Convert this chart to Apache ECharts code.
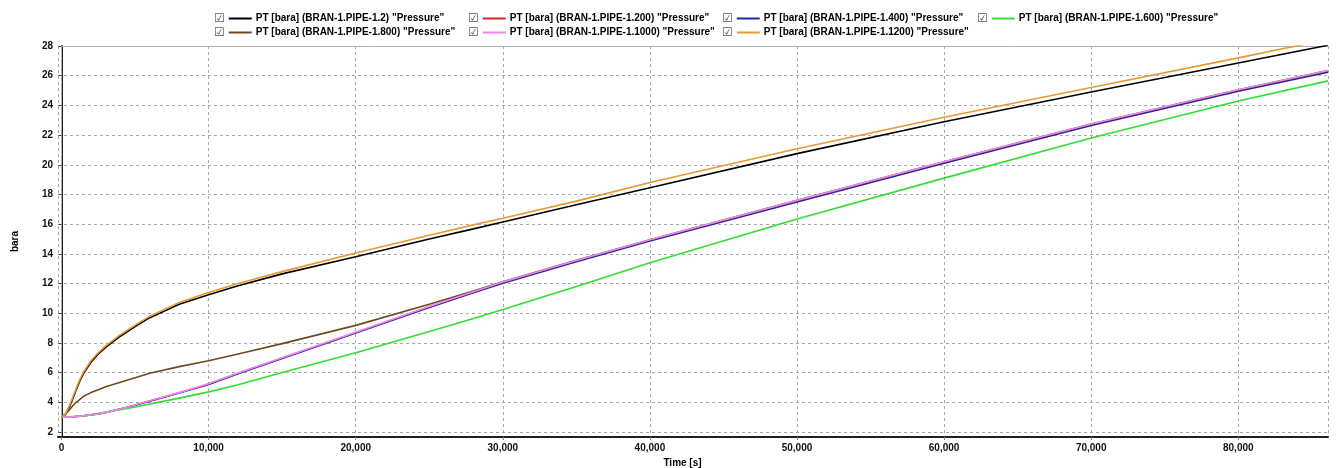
<!DOCTYPE html>
<html><head><meta charset="utf-8">
<script src="https://cdn.jsdelivr.net/npm/echarts@6/dist/echarts.min.js"></script>
<style>html,body{margin:0;padding:0;background:#fff}#c{width:1338px;height:468px}</style>
</head><body><div id="c"></div>
<script>
// ---- data ----
const timeS = [0, 250, 500, 750, 1000, 1250, 1500, 2000, 2500, 3000, 4000, 5000, 6000, 8000, 10000, 12000, 15000, 20000, 25000, 28000, 30000, 35000, 40000, 50000, 60000, 70000, 80000, 86100];
const seriesNames = [
  'PT [bara] (BRAN-1.PIPE-1.2) "Pressure"',
  'PT [bara] (BRAN-1.PIPE-1.200) "Pressure"',
  'PT [bara] (BRAN-1.PIPE-1.400) "Pressure"',
  'PT [bara] (BRAN-1.PIPE-1.600) "Pressure"',
  'PT [bara] (BRAN-1.PIPE-1.800) "Pressure"',
  'PT [bara] (BRAN-1.PIPE-1.1000) "Pressure"',
  'PT [bara] (BRAN-1.PIPE-1.1200) "Pressure"'
];
const pipe1_2    = [3.0, 3.15, 3.6, 4.2, 4.85, 5.45, 5.95, 6.7, 7.25, 7.7, 8.45, 9.1, 9.7, 10.6, 11.25, 11.85, 12.65, 13.8, 15.0, 15.68, 16.15, 17.3, 18.45, 20.75, 22.9, 24.9, 26.85, 28.05];
const pipe1_200  = [3.0, 3.0, 3.0, 3.02, 3.04, 3.06, 3.09, 3.15, 3.23, 3.32, 3.55, 3.81, 4.09, 4.64, 5.23, 5.95, 6.98, 8.7, 10.43, 11.43, 12.08, 13.52, 14.92, 17.57, 20.16, 22.71, 25.01, 26.31];
const pipe1_400  = [3.0, 3.0, 3.0, 3.02, 3.04, 3.06, 3.09, 3.15, 3.22, 3.31, 3.54, 3.8, 4.07, 4.62, 5.2, 5.92, 6.95, 8.66, 10.38, 11.38, 12.02, 13.46, 14.86, 17.5, 20.1, 22.65, 24.95, 26.23];
const pipe1_600  = [3.0, 3.0, 3.0, 3.02, 3.04, 3.06, 3.09, 3.15, 3.23, 3.32, 3.5, 3.68, 3.88, 4.28, 4.7, 5.18, 6.0, 7.34, 8.77, 9.65, 10.25, 11.8, 13.4, 16.35, 19.1, 21.8, 24.3, 25.65];
const pipe1_800  = [3.0, 3.2, 3.45, 3.75, 4.0, 4.2, 4.4, 4.65, 4.85, 5.05, 5.35, 5.65, 5.95, 6.4, 6.8, 7.25, 7.95, 9.18, 10.6, 11.5, 12.12, 13.56, 14.95, 17.6, 20.2, 22.75, 25.05, 26.35];
const pipe1_1000 = [3.0, 3.0, 3.0, 3.02, 3.04, 3.06, 3.09, 3.15, 3.23, 3.32, 3.55, 3.82, 4.1, 4.65, 5.25, 5.97, 7.0, 8.72, 10.45, 11.45, 12.1, 13.55, 14.95, 17.6, 20.2, 22.75, 25.05, 26.35];
const pipe1_1200 = [3.0, 3.2, 3.7, 4.3, 4.95, 5.55, 6.05, 6.8, 7.35, 7.8, 8.55, 9.2, 9.8, 10.72, 11.4, 12.0, 12.8, 14.05, 15.25, 15.95, 16.4, 17.55, 18.8, 21.08, 23.2, 25.2, 27.2, 28.45];
const yTickLabels = ['2','4','6','8','10','12','14','16','18','20','22','24','26','28'];
const xTickLabels = ['0','10,000','20,000','30,000','40,000','50,000','60,000','70,000','80,000'];

// ---- style ----
const seriesValues = [pipe1_2, pipe1_200, pipe1_400, pipe1_600, pipe1_800, pipe1_1000, pipe1_1200];
const lineColors = ['#000000', '#d8232a', '#23239a', '#33dd33', '#6e4a24', '#ee88ee', '#e8992f'];
const FONT = '"Liberation Sans", Arial, sans-serif';
const legendLeft = [208, 462, 716, 971];
const legendTop = [12, 26];

const legends = seriesNames.map((n, i) => ({
  data: [n],
  left: legendLeft[i % 4],
  top: legendTop[Math.floor(i / 4)],
  padding: 0,
  itemWidth: 0,
  itemHeight: 0,
  selectedMode: false,
  formatter: name => '{cb|\u2611}{sp| }{ln| }{sp| }{t|' + name + '}',
  textStyle: {
    fontFamily: FONT, fontWeight: 'bold', fontSize: 10, color: '#000', lineHeight: 13,
    rich: {
      cb: { fontFamily: '"DejaVu Sans"', fontSize: 12, color: '#555', lineHeight: 13 },
      sp: { width: 4 },
      ln: { width: 23, height: 2, lineHeight: 2, backgroundColor: lineColors[i], verticalAlign: 'middle' },
      t: { fontFamily: FONT, fontWeight: 'bold', fontSize: 10, color: '#000', lineHeight: 13 }
    }
  }
}));

const fmtX = v => {
  if (v % 10000 !== 0 || v < 0) return '';
  const k = v / 10000;
  return xTickLabels[k] !== undefined ? xTickLabels[k] : '';
};
const fmtY = v => {
  if (Math.abs(v % 2) > 1e-6) return '';
  const k = Math.round((v - 2) / 2);
  return yTickLabels[k] || '';
};

const chart = echarts.init(document.getElementById('c'), null, { renderer: 'canvas' });
chart.setOption({
  animation: false,
  backgroundColor: '#fff',
  legend: legends,
  grid: { left: 58, right: 10, top: 46, bottom: 31, containLabel: false, outerBoundsMode: 'none' },
  xAxis: [{
    type: 'value', min: -240, max: 86100, splitNumber: 9,
    name: 'Time [s]', nameLocation: 'middle', nameGap: 13,
    nameTextStyle: { fontFamily: FONT, fontWeight: 'bold', fontSize: 10, color: '#000', padding: [0, 21, 0, 0] },
    axisLine: { lineStyle: { color: '#222', width: 2 } },
    axisTick: { show: true, length: 3, lineStyle: { color: '#888' } },
    axisLabel: { margin: 6, fontFamily: FONT, fontWeight: 'bold', fontSize: 10, color: '#111',
      showMinLabel: false, showMaxLabel: false, formatter: fmtX },
    splitLine: { show: true, lineStyle: { color: '#a8a8a8', type: [3, 3], width: 1 } }
  }, {
    type: 'value', position: 'top', min: -240, max: 86100,
    axisLine: { lineStyle: { color: '#b0b0b0', width: 1 } },
    axisTick: { show: false }, axisLabel: { show: false }, splitLine: { show: false }
  }],
  yAxis: [{
    type: 'value', min: 1.66, max: 28, splitNumber: 13,
    name: 'bara', nameLocation: 'middle', nameGap: 38,
    nameTextStyle: { fontFamily: FONT, fontWeight: 'bold', fontSize: 10, color: '#000' },
    axisLine: { show: true, lineStyle: { color: '#222', width: 2 } },
    axisTick: { show: true, length: 3, lineStyle: { color: '#444' } },
    axisLabel: { margin: 5, fontFamily: FONT, fontWeight: 'bold', fontSize: 10, color: '#111',
      showMinLabel: false, formatter: fmtY },
    splitLine: { show: true, lineStyle: { color: '#a8a8a8', type: [3, 3], width: 1 } }
  }, {
    type: 'value', position: 'right', min: 1.66, max: 28,
    axisLine: { show: true, lineStyle: { color: '#b0b0b0', width: 1 } },
    axisTick: { show: false }, axisLabel: { show: false }, splitLine: { show: false }
  }],
  series: seriesNames.map((n, i) => ({
    name: n, type: 'line', xAxisIndex: 0, yAxisIndex: 0,
    data: timeS.map((t, j) => [t, seriesValues[i][j]]),
    showSymbol: false, symbol: 'none',
    smooth: false,
    clip: true,
    lineStyle: { color: lineColors[i], width: 1.6 },
    itemStyle: { color: lineColors[i] },
    emphasis: { disabled: true }
  }))
});
</script></body></html>
